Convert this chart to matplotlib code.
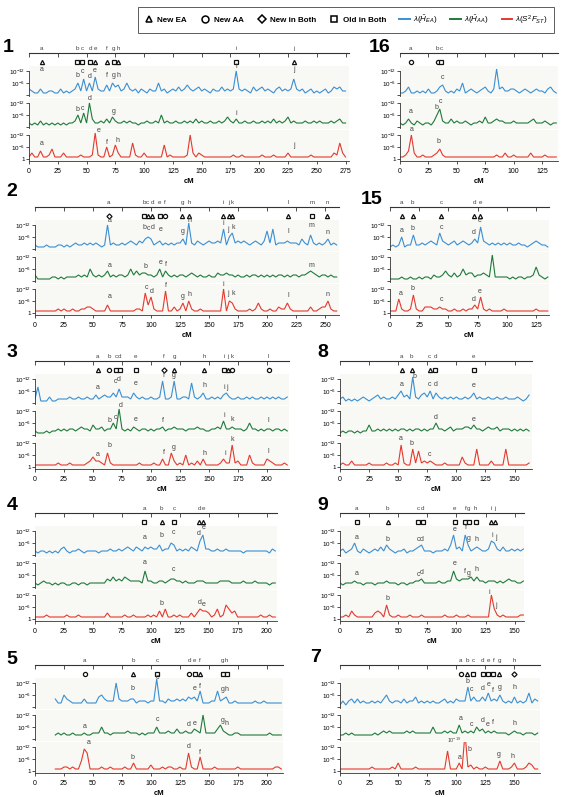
import numpy as np
import matplotlib
matplotlib.use("Agg")
import matplotlib.pyplot as plt
from matplotlib.lines import Line2D

plt.rcParams['font.family'] = ['Liberation Sans', 'DejaVu Sans']
plt.rcParams['mathtext.fontset'] = 'custom'
plt.rcParams['mathtext.rm'] = 'Liberation Sans'
plt.rcParams['mathtext.it'] = 'Liberation Sans:italic'

W, H = 565, 797
STEP = 2.5  # cM between values

# ---- traces: -log10 p, one value every 2.5 cM ----
chr1_ea = [3,2,1,1,3,1,1,2,2,1, 1,3,1,2,1,2,3,6,2,8, 2,6,2,9,3,2,2,5,2,6, 4,5,2,3,6,3,2,3,1,3,
           2,1,3,2,2,6,2,3,1,2, 3,2,4,2,3,5,3,2,3,4, 2,3,2,1,3,2,2,4,2,3, 2,3,12,3,2,3,2,1,4,2,
           3,4,2,3,2,1,3,4,2,3, 2,3,8,3,2,3,1,2,3,1, 2,1,2,3,1,2,4,3,4,2,2]
chr1_aa = [2,1,2,1,3,1,2,1,2,1, 2,1,2,1,2,2,3,6,2,7, 2,12,4,2,2,3,2,4,2,5, 3,2,2,3,2,3,2,2,1,2,
           2,3,2,2,3,2,6,2,3,2, 2,3,2,2,3,2,3,2,4,2, 3,2,2,3,2,2,3,2,3,5, 3,2,4,2,2,3,2,2,3,2,
           2,3,2,3,2,4,2,3,2,3, 5,2,3,2,2,2,3,2,2,3, 2,3,2,2,2,3,2,3,4,2,2]
chr1_fst = [1,3,1,1,4,1,1,2,5,1, 1,1,3,1,1,1,1,1,2,1, 1,1,2,13,2,1,1,6,1,2, 7,3,1,1,1,1,8,2,1,1,
            3,1,1,1,1,1,1,7,1,2, 1,1,1,1,1,2,12,3,1,3, 2,1,1,1,1,1,1,1,1,1, 1,2,1,1,2,1,1,1,1,1,
            1,2,1,1,1,2,1,1,1,1, 3,1,1,1,1,1,1,1,2,1, 1,1,1,1,1,1,3,2,8,3,1]

chr16_ea = [1,1,2,4,1,1,2,1,2,1, 3,1,1,2,4,5,2,1,2,1, 3,2,6,1,2,3,2,1,2,3, 4,2,1,3,13,3,4,2,2,3,
            3,2,1,2,3,2,1,2,3,2, 2,1,3,4,2,1]
chr16_aa = [2,1,2,4,2,1,3,2,1,2, 2,1,3,6,9,3,2,2,4,2, 3,2,2,3,2,1,2,2,3,2, 5,2,2,3,4,3,3,2,2,2,
            3,2,2,2,2,2,3,4,2,2, 2,3,2,1,2,2]
chr16_fst = [1,1,2,4,12,3,1,1,2,1, 1,1,2,3,5,2,1,1,1,1, 1,1,1,1,1,1,1,1,1,1, 1,1,1,1,2,1,1,3,1,1,
             2,1,1,1,1,1,3,1,1,1, 1,2,1,1,1,1]

chr2_ea = [2,1,1,1,2,1,1,1,2,2, 1,2,1,2,3,2,2,3,2,3, 2,3,2,1,2,12,2,3,2,2, 3,2,3,4,3,2,4,3,5,6,
           5,2,3,4,2,3,2,3,2,3, 3,5,2,13,3,2,4,3,2,3, 4,3,3,4,3,10,2,6,8,3, 4,3,4,3,2,3,4,3,2,4,
           9,3,10,2,3,3,3,4,3,3, 3,2,5,3,2,7,3,2,3,2, 3,5,2,3,2]
chr2_aa = [3,1,1,1,1,1,2,2,1,2, 1,2,2,2,2,3,2,3,2,6, 3,2,3,2,3,5,2,3,2,3, 3,2,3,6,3,5,3,4,4,3,
           3,2,3,6,2,5,3,2,3,2, 3,3,2,3,4,3,2,3,2,2, 3,2,2,4,3,3,4,3,3,2, 3,2,2,3,2,3,3,2,3,2,
           3,2,3,2,3,3,2,3,2,3, 3,2,3,3,4,5,4,3,2,3, 3,2,3,2,2]
chr2_fst = [1,1,1,1,1,1,1,1,2,1, 2,1,1,2,1,1,2,2,3,3, 2,1,1,1,1,4,1,1,1,1, 1,1,1,1,1,2,2,1,10,4,
            8,2,1,1,1,11,1,1,3,1, 2,5,1,6,2,1,1,2,1,1, 1,1,1,1,1,12,1,6,5,2, 1,1,1,1,2,1,2,5,2,1,
            1,2,1,1,3,2,2,5,2,1, 1,1,1,1,1,3,1,1,2,3, 3,6,2,1,1]

chr15_ea = [1,2,1,2,6,1,2,2,7,2, 2,3,2,3,4,3,2,8,4,3, 2,3,4,2,3,4,3,2,3,5, 3,11,4,3,2,3,2,3,2,3,
            2,3,2,2,3,2,2,1,2,3, 4,3,2,2,1]
chr15_aa = [1,1,1,1,2,1,1,2,1,1, 2,1,2,2,1,3,2,2,3,5, 3,2,4,2,3,6,3,4,4,2, 3,3,4,3,2,13,2,2,2,2,
            2,1,2,1,2,2,1,2,2,3, 7,3,2,1,2]
chr15_fst = [1,1,1,7,2,1,1,2,9,2, 1,1,3,3,3,2,2,3,2,2, 1,1,2,1,1,2,1,2,2,4, 2,8,2,1,2,1,1,1,1,2,
             1,1,1,1,1,1,1,1,1,1, 2,1,1,1,1]

chr3_ea = [2,8,1,1,1,3,1,1,2,2, 2,2,3,2,2,3,2,2,3,2, 2,4,2,3,4,3,3,5,3,7, 3,3,3,2,5,3,2,3,2,2,
           3,2,2,3,11,2,2,3,11,2, 2,3,3,2,10,3,2,3,5,2, 2,3,2,3,2,4,5,3,2,2, 3,2,2,3,2,3,2,2,3,2,
           3,2,3,2,3,2,2,3]
chr3_aa = [2,1,1,1,2,1,2,2,3,2, 3,2,3,3,2,3,4,3,3,2, 5,3,3,4,2,3,3,6,3,13, 3,2,3,2,4,3,2,3,3,2,
           3,2,3,3,4,2,3,3,4,3, 3,3,2,3,3,3,4,3,3,2, 2,3,3,4,3,7,3,3,4,3, 3,3,2,3,6,3,3,2,3,2,
           3,3,2,3,3,2,3,2]
chr3_fst = [1,1,1,1,1,1,1,1,2,1, 1,1,2,1,1,1,1,1,2,3, 5,3,3,2,1,7,2,1,1,1, 1,1,1,1,1,1,2,1,1,1,
            1,2,1,1,4,1,1,7,3,1, 2,1,6,1,2,1,3,1,4,1, 1,1,1,1,2,4,2,2,11,2, 3,1,1,1,6,2,1,1,1,1,
            4,3,2,1,1,1,2,1]

chr8_ea = [2,3,1,2,1,2,1,2,3,2, 1,2,3,4,2,3,2,2,3,2, 4,6,3,4,2,13,3,2,4,5, 3,6,2,5,3,2,3,2,3,2,
           3,2,2,3,2,3,5,2,3,2, 2,3,2,2,3,2,2,3,2,2, 2,3,2,1,2,4]
chr8_aa = [1,2,1,2,2,1,2,1,2,2, 5,2,2,3,2,3,2,3,2,3, 2,3,3,2,3,2,3,3,2,3, 2,3,3,6,3,3,2,3,4,2,
           3,3,3,4,4,3,5,3,3,2, 3,4,3,3,4,2,3,3,3,2, 3,2,3,2,3,2]
chr8_fst = [1,2,1,1,3,1,1,1,1,1, 2,1,1,1,1,1,2,1,1,2, 1,11,2,1,1,9,2,8,2,3, 2,3,2,1,1,1,2,1,1,1,
            1,1,5,2,1,1,1,9,1,1, 1,1,3,1,1,1,1,9,1,1, 1,1,1,1,1,2]

chr4_ea = [2,1,2,2,1,2,1,2,1,3, 4,2,1,2,2,3,2,1,2,2, 2,2,1,2,2,2,3,2,2,3, 2,3,4,3,2,4,3,2,4,3,
           4,3,3,5,2,3,3,6,5,2, 3,2,3,2,4,3,2,7,10,3, 3,2,2,3,2,2,3,2,2,2, 2,2,1,2,2,2,2,2,2,2,
           2,1,3,2]
chr4_aa = [2,1,2,3,2,2,1,2,1,2, 2,1,1,2,2,1,2,2,1,2, 2,2,2,2,2,4,3,5,3,4, 3,5,4,3,3,3,3,2,8,3,
           3,2,2,3,3,2,3,4,4,3, 3,2,3,2,2,2,3,3,3,2, 2,2,2,2,3,3,3,3,2,2, 2,2,3,2,2,2,3,2,2,2,
           2,1,2,2]
chr4_fst = [1,1,1,1,2,1,1,1,1,1, 1,2,1,1,1,2,1,1,1,1, 1,1,1,1,1,3,1,1,1,1, 1,2,1,1,2,1,1,1,1,2,
            1,2,1,4,1,5,1,1,2,1, 2,1,1,1,3,1,3,5,4,4, 3,1,2,5,1,2,7,5,3,4, 1,1,1,1,1,1,1,1,2,1,
            1,2,1,1]

chr9_ea = [2,3,1,2,3,6,2,1,3,2, 1,2,3,2,4,2,5,3,2,1, 2,2,3,1,2,2,3,4,5,2, 2,2,1,2,2,2,3,2,5,10,
           3,4,2,10,5,2,3,4,3,2, 2,3,7,6,3,2,4,2,2,3, 2,3,2,3]
chr9_aa = [2,1,2,2,2,3,2,2,1,2, 2,2,1,2,2,2,3,2,2,2, 1,2,2,1,2,2,3,3,4,2, 2,2,2,2,3,2,2,3,3,8,
           4,3,4,4,4,5,3,5,3,3, 2,3,3,3,2,3,2,3,4,3, 3,2,2,3]
chr9_fst = [1,1,2,1,4,2,1,1,1,1, 1,1,3,4,3,1,7,2,1,1, 2,1,1,1,2,1,1,1,2,1, 1,1,1,1,1,1,2,1,1,1,
            2,1,1,1,2,1,1,1,1,1, 1,1,12,5,2,1,2,1,1,1, 1,1,2,2]

# chromosome 5 traces start at 17.5 cM
chr5_ea = [4,2,2,6,4,3,2,2,2,2, 4,2,2,2,2,5,6,4,3,3, 3,12,4,3,3,3,4,4,2,3, 3,3,2,3,3,14,3,3,2,4,
           3,3,4,3,4,3,5,4,5,3, 8,2,2,2,3,3,8,3,4,5, 2,2,3,2,2,2,2,2,2,3, 2,2,3,2,2,2,2,2,2]
chr5_aa = [2,3,2,3,2,2,3,2,2,2, 3,2,2,3,3,3,6,3,3,2, 3,3,3,3,3,4,3,3,3,2, 3,2,3,3,3,6,3,3,3,4,
           3,3,5,3,3,4,3,3,5,4, 3,12,3,3,3,3,5,7,4,3, 2,2,3,3,2,2,2,2,2,2, 2,2,2,2,3,2,2,2,2]
chr5_fst = [1,1,1,2,2,1,2,1,1,5, 11,9,1,1,1,1,2,1,1,2, 1,1,1,1,2,1,1,4,1,1, 1,1,1,3,1,1,1,2,1,2,
            2,1,1,2,1,1,9,2,1,1, 7,1,1,1,1,2,1,1,1,1, 1,1,1,2,1,1,1,1,1,1, 1,1,1,1,1,1,2,2,1]

chr7_ea = [1,3,1,3,4,2,4,2,3,2, 2,3,2,3,2,4,6,3,2,3, 3,2,4,2,3,3,5,2,3,2, 3,2,3,2,2,3,4,2,3,2,
           4,3,3,3,10,3,5,3,3,5, 3,7,3,4,3,6,3,2,3,2, 5,2,3,2,3,7,2,4,3]
chr7_aa = [2,2,3,2,3,2,2,2,2,2, 2,2,3,2,3,4,3,4,3,3, 3,3,3,4,3,4,3,3,3,3, 3,3,6,3,3,3,4,3,4,3,
           3,7,3,4,3,4,3,6,4,5, 3,4,3,4,3,3,3,3,2,3, 4,3,3,2,3,3,3,2,3]
chr7_fst = [1,1,1,1,1,1,1,1,1,1, 1,2,1,1,1,1,1,1,2,1, 4,1,1,1,1,1,2,1,1,1, 1,1,1,1,1,1,1,10,1,1,
            1,4,1,19,2,3,1,2,1,1, 2,1,1,1,1,5,1,1,1,2, 4,1,1,1,2,4,3,1,1]

# ---- loci on the top ruler: letter, cM, marker (^ New EA, o New AA, D New in Both, s Old in Both) ----
chr1_loci = ("abcdefghij", [11, 42, 46, 53, 57.5, 68, 73.5, 77.5, 180, 230], "^sss^^s^s^")
chr16_loci = ("abc", [9.5, 33, 36], "oos")
chr2_loci = ("abcdefghijklmn", [63.5, 94, 97, 101, 107.5, 112, 127, 133, 162, 167, 170, 218, 239, 252],
             "Ds^^so^^^^^^s^")
chr15_loci = ("abcde", [10, 19.5, 43.7, 72, 77], "^^^^^")
chr3_loci = ("abcdefghijkl", [54, 64, 70, 73, 87, 111, 120, 146, 163, 166, 170, 201.5], "^osssD^^s^oo")
chr8_loci = ("abcde", [53, 61.5, 77, 82, 115], "^^^ss")
chr4_loci = ("abcde", [94.5, 109.5, 120, 141.7, 145.4], "s^s^^")
chr9_loci = ("abcdefghij", [14.3, 41, 67, 71, 98.6, 107.7, 110.6, 116.6, 130, 133], "s^ssssss^^")
chr5_loci = ("abcdefgh", [43, 84.5, 105.7, 133, 138, 142, 162, 165.5], "o^sos^ss")
chr7_loci = ("abcdefgh", [103.8, 109.3, 114.5, 122.6, 127.5, 131.9, 137, 150], "o^ssss^D")

# ---- letters on the traces: (letter, cM, -log10 p) ----
chr1_tags = ([("a", 11, 11), ("b", 42, 8), ("c", 46.5, 10), ("d", 52.5, 7.5), ("e", 57.5, 10.5),
              ("f", 68, 8), ("g", 73.5, 8), ("h", 77.5, 8), ("i", 180, 12.5), ("j", 230, 11)],
             [("b", 42, 7), ("c", 46.5, 7.5), ("d", 53, 12.5), ("g", 74, 6), ("i", 180, 5)],
             [("a", 11, 6), ("e", 60.5, 12.5), ("f", 68, 6.5), ("h", 76.5, 7.5), ("j", 230, 5)])
chr16_tags = ([("c", 37, 7)],
              [("a", 9, 6), ("b", 32.5, 8), ("c", 36, 11)],
              [("a", 10, 13), ("b", 34, 7)])
chr2_tags = ([("a", 64, 12.5), ("b", 94, 9), ("c", 97.5, 8.5), ("d", 101, 9), ("e", 108, 8), ("g", 127, 7),
              ("h", 133, 12.5), ("i", 162, 11), ("j", 166.5, 8), ("k", 170.5, 9), ("l", 218, 7),
              ("m", 238, 10), ("n", 252, 6.5)],
             [("a", 64, 6), ("b", 95, 5.5), ("e", 108, 7.5), ("f", 112.5, 6.5), ("m", 238, 6)],
             [("a", 64, 6.5), ("c", 96, 11), ("d", 100.5, 9), ("f", 113, 12), ("g", 127, 6.5), ("h", 133, 7.5),
              ("i", 162, 12.5), ("j", 166.5, 8), ("k", 170.5, 8), ("l", 218, 7), ("n", 252, 7.5)])
chr15_tags = ([("a", 10, 7.5), ("b", 19.5, 8.5), ("c", 44, 9), ("d", 72, 6.5), ("e", 77, 12.5)],
              [],
              [("a", 9, 8), ("b", 19.5, 10.5), ("c", 44, 5), ("d", 72, 5), ("e", 77, 9)])
chr3_tags = ([("a", 54, 6), ("c", 69, 9), ("d", 72.5, 10), ("e", 87, 8), ("f", 111, 12), ("g", 120, 12),
              ("h", 146, 7), ("i", 163, 6), ("j", 165.5, 6)],
             [("b", 64, 5.5), ("c", 69, 7), ("d", 73.5, 13), ("e", 87, 6), ("f", 110, 5.5), ("i", 163, 8),
              ("k", 170, 6), ("l", 201, 5.5)],
             [("a", 54, 4.5), ("b", 64, 9), ("f", 111, 5.5), ("g", 120, 8), ("h", 146, 5), ("i", 164, 5),
              ("k", 170, 12), ("l", 201, 6)])
chr8_tags = ([("a", 53, 7.5), ("b", 64, 11.5), ("c", 77, 7.5), ("d", 82, 7.5), ("e", 115, 7)],
             [("d", 82, 7), ("e", 115, 6)],
             [("a", 52.5, 12.5), ("b", 61.5, 10), ("c", 77, 4.5)])
chr4_tags = ([("a", 94.5, 7), ("b", 109.5, 8), ("c", 120, 9.5), ("d", 141.5, 9), ("e", 146, 12)],
             [("a", 94.5, 10.5), ("c", 120, 7)],
             [("b", 109.5, 6), ("d", 142, 6.5), ("e", 145.5, 5.5)])
chr9_tags = ([("a", 14.5, 7), ("b", 41, 6), ("c", 67, 6), ("d", 70.5, 6), ("e", 98.5, 11), ("f", 108, 12),
              ("g", 110.5, 6.5), ("h", 117, 6), ("i", 131, 8), ("j", 133.5, 7)],
             [("a", 14.5, 5), ("c", 67, 4.5), ("d", 70.5, 5.5), ("e", 98.5, 10), ("f", 107.5, 6),
              ("g", 110.5, 5), ("h", 117, 7)],
             [("b", 41, 8.5), ("i", 128.5, 11.5), ("j", 134, 5)])
chr5_tags = ([("b", 84.5, 7.5), ("c", 106, 13), ("e", 138, 7.5), ("f", 142, 8.5), ("g", 162, 7), ("h", 165.5, 7)],
             [("a", 43, 4.5), ("c", 105.5, 8), ("d", 133, 5.5), ("e", 138, 6), ("g", 162, 7.5), ("h", 165.5, 6)],
             [("a", 46.5, 12.5), ("b", 84.5, 5), ("d", 133, 10.5), ("f", 142, 7.5)])
chr7_tags = ([("b", 109.5, 11), ("c", 113.5, 7), ("d", 122.5, 7.5), ("e", 127.5, 9.5), ("f", 131.5, 6.5),
              ("g", 137, 8), ("h", 150, 8)],
             [("a", 103.5, 8.5), ("c", 113, 5.5), ("d", 122.5, 7.5), ("e", 127, 5.5), ("f", 131.5, 6.5),
              ("h", 150, 6)],
             [("a", 103, 5), ("b", 111, 9), ("g", 136.5, 6.5), ("h", 148.5, 5.5)])

BLUE, GREEN, RED = '#3b8fd2', '#1f7a3b', '#e5392f'
BG = '#f8f8f4'
MARKERS = {'^': '^', 'o': 'o', 'D': 'D', 's': 's'}

# layout in pixels: row, left, right, cM shown, data start, name position
ROW_Y = [53, 207, 361, 513, 665]
CHROMS = [
    ("1", 0, 29, 349, 278, 0, (8, 47), chr1_ea, chr1_aa, chr1_fst, chr1_loci, chr1_tags),
    ("16", 0, 400, 558, 139, 0, (380, 48), chr16_ea, chr16_aa, chr16_fst, chr16_loci, chr16_tags),
    ("2", 1, 35, 339, 262, 0, (12, 192), chr2_ea, chr2_aa, chr2_fst, chr2_loci, chr2_tags),
    ("15", 1, 390, 549, 136, 0, (372, 200), chr15_ea, chr15_aa, chr15_fst, chr15_loci, chr15_tags),
    ("3", 2, 35, 289, 219, 0, (12, 353), chr3_ea, chr3_aa, chr3_fst, chr3_loci, chr3_tags),
    ("8", 2, 340, 532, 165, 0, (323, 353), chr8_ea, chr8_aa, chr8_fst, chr8_loci, chr8_tags),
    ("4", 3, 35, 277, 209, 0, (12, 506), chr4_ea, chr4_aa, chr4_fst, chr4_loci, chr4_tags),
    ("9", 3, 340, 524, 158, 0, (323, 505), chr9_ea, chr9_aa, chr9_fst, chr9_loci, chr9_tags),
    ("5", 4, 35, 283, 214, 17.5, (12, 659), chr5_ea, chr5_aa, chr5_fst, chr5_loci, chr5_tags),
    ("7", 4, 340, 540, 172, 0, (316, 658), chr7_ea, chr7_aa, chr7_fst, chr7_loci, chr7_tags),
]

fig = plt.figure(figsize=(W / 100, H / 100), dpi=100)


def px_axes(left, top, width, height):
    return fig.add_axes([left / W, 1 - (top + height) / H, width / W, height / H])


def draw_chrom(name, row, left, right, xmax, start, name_xy, ea, aa, fst, loci, tags):
    Y = ROW_Y[row]
    width = right - left
    ticks = np.arange(0, xmax + 0.1, 25)

    # top ruler with the loci
    axr = px_axes(left, Y, width, 14)
    axr.set_xlim(0, xmax)
    axr.set_ylim(0, 1)
    axr.patch.set_visible(False)
    for s in ['left', 'right', 'bottom']:
        axr.spines[s].set_visible(False)
    axr.spines['top'].set_linewidth(0.8)
    axr.spines['top'].set_color('#333333')
    axr.xaxis.tick_top()
    axr.set_xticks(ticks)
    axr.set_xticklabels([])
    axr.tick_params(axis='x', direction='in', length=3, width=0.6, color='#333333')
    axr.set_yticks([])
    letters, pos, marks = loci
    for l, p, m in zip(letters, pos, marks):
        axr.text(p, 1.15, l, ha='center', va='bottom', fontsize=4.5, color='#444444')
        axr.plot(p, 0.36, marker=MARKERS[m], ms=3.0 if m != 'D' else 2.6, mfc='white', mec='#111111',
                 mew=0.9, ls='none', clip_on=False)

    # three stacked traces
    for k, (vals, col, labs) in enumerate(zip([ea, aa, fst], [BLUE, GREEN, RED], tags)):
        ax = px_axes(left, Y + 13 + 32 * k, width, 31)
        x = start + STEP * np.arange(len(vals))
        ax.plot(x, vals, color=col, lw=0.8, solid_joinstyle='miter')
        ax.set_xlim(0, xmax)
        ax.set_ylim(-1, 14.5)
        ax.set_facecolor(BG)
        for s in ['top', 'right']:
            ax.spines[s].set_visible(False)
        ax.spines['left'].set_linewidth(0.6)
        ax.spines['left'].set_color('#333333')
        ax.set_yticks([0, 6, 12])
        if k == 2:
            ax.set_yticklabels(['1', r'10$^{-6}$', r'10$^{-12}$'])
            ax.spines['left'].set_bounds(-1, 12)
            ax.spines['bottom'].set_linewidth(0.6)
            ax.spines['bottom'].set_color('#333333')
            ax.spines['bottom'].set_bounds(0, xmax)
            ax.set_xticks(ticks)
            ax.set_xticklabels([str(int(t)) for t in ticks])
            ax.tick_params(axis='x', length=2.5, width=0.6, labelsize=5, pad=2.5, color='#333333')
            ax.set_xlabel('cM', fontsize=5.5, weight='bold', labelpad=2.5)
        else:
            ax.set_yticklabels(['', r'10$^{-6}$', r'10$^{-12}$'])
            ax.spines['left'].set_bounds(-0.5, 12)
            ax.spines['bottom'].set_visible(False)
            ax.set_xticks([])
        ax.tick_params(axis='y', length=2, width=0.6, labelsize=4.5, pad=1, color='#333333')
        for l, p, v in labs:
            ax.text(p, v, l, ha='center', va='bottom', fontsize=5, color='#444444', clip_on=False)
        if name == "7" and k == 2:
            ax.text(104, 13.0, r'10$^{-19}$', ha='right', va='bottom', fontsize=3.8, color='#444444')

    fig.text(name_xy[0] / W, 1 - name_xy[1] / H, name, fontsize=14, weight='bold',
             ha='center', va='center')


for c in CHROMS:
    draw_chrom(*c)

# legend
handles = [
    Line2D([], [], marker='^', ls='none', mfc='white', mec='black', mew=1.1, ms=5),
    Line2D([], [], marker='o', ls='none', mfc='white', mec='black', mew=1.1, ms=5),
    Line2D([], [], marker='D', ls='none', mfc='white', mec='black', mew=1.1, ms=4.5),
    Line2D([], [], marker='s', ls='none', mfc='white', mec='black', mew=1.1, ms=5),
    Line2D([], [], color=BLUE, lw=1.4),
    Line2D([], [], color=GREEN, lw=1.4),
    Line2D([], [], color=RED, lw=1.4),
]
labels = ['New EA', 'New AA', 'New in Both', 'Old in Both',
          r'$\lambda(\hat{H}_{EA})$', r'$\lambda(\hat{H}_{AA})$', r'$\lambda(S^2F_{ST})$']
leg = fig.legend(handles, labels, loc='upper right', bbox_to_anchor=(558 / W, 1 - 3 / H), ncol=7,
                 fontsize=5.8, frameon=True, fancybox=False, edgecolor='#333333', handlelength=1.3,
                 handletextpad=0.4, columnspacing=1.6, borderpad=0.75)
leg.get_frame().set_linewidth(0.7)
for t in leg.get_texts()[:4]:
    t.set_weight('bold')

fig.savefig('out.png', dpi=100)
